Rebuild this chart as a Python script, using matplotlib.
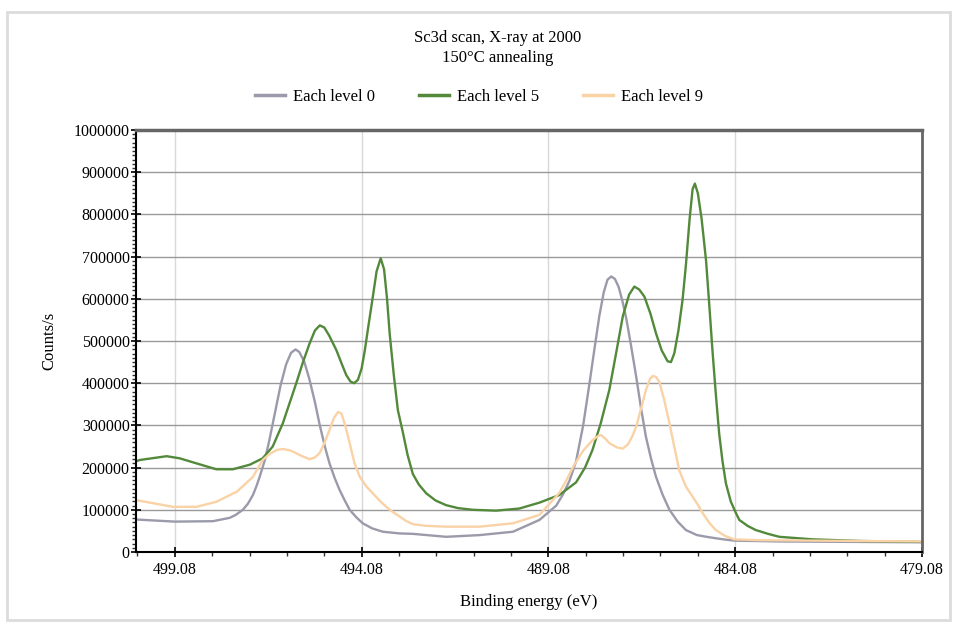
import numpy as np
import matplotlib.pyplot as plt
from matplotlib.patches import Rectangle
from matplotlib.ticker import MultipleLocator, FixedLocator, StrMethodFormatter

plt.rcParams["font.family"] = ["Liberation Serif", "DejaVu Serif"]

# binding energy (eV) / counts per second
e_level0 = [500.12, 499.08, 498.06, 497.61, 497.45, 497.26, 497.12, 496.99, 496.90,
            496.81, 496.67, 496.55, 496.40, 496.25, 496.10, 495.97, 495.85, 495.75,
            495.62, 495.48, 495.33, 495.20, 495.05, 494.94, 494.80, 494.67, 494.52,
            494.40, 494.22, 494.05, 493.80, 493.51, 493.06, 492.71, 491.82, 490.93,
            490.03, 489.32, 488.87, 488.70, 488.52, 488.34, 488.15, 487.98, 487.85,
            487.72, 487.60, 487.50, 487.40, 487.30, 487.20, 487.10, 487.00, 486.87,
            486.73, 486.60, 486.47, 486.33, 486.20, 486.02, 485.84, 485.62, 485.40,
            485.10, 484.78, 484.40, 484.11, 482.90, 479.08]
c_level0 = [77000, 72000, 73000, 81000, 88000, 100000, 115000, 135000, 155000,
            178000, 218000, 265000, 330000, 395000, 445000, 472000, 480000, 474000,
            452000, 410000, 355000, 300000, 245000, 210000, 175000, 147000, 120000,
            100000, 82000, 68000, 56000, 48000, 44000, 43000, 36000, 40000,
            48000, 76000, 110000, 135000, 168000, 215000, 300000, 400000, 480000,
            558000, 615000, 645000, 653000, 647000, 628000, 595000, 555000, 490000,
            415000, 340000, 273000, 220000, 178000, 135000, 100000, 72000, 52000,
            40000, 35000, 30000, 27000, 25000, 23000]

e_level5 = [500.12, 500.02, 499.30, 498.95, 498.50, 497.97, 497.53, 497.07, 496.73,
            496.46, 496.19, 495.83, 495.65, 495.47, 495.33, 495.20, 495.08, 494.95,
            494.76, 494.60, 494.49, 494.38, 494.28, 494.18, 494.08, 494.00, 493.90,
            493.78, 493.68, 493.57, 493.48, 493.40, 493.33, 493.22, 493.11, 492.98,
            492.85, 492.71, 492.55, 492.35, 492.10, 491.82, 491.50, 491.10, 490.48,
            489.86, 489.32, 488.79, 488.34, 488.10, 487.90, 487.68, 487.45, 487.25,
            487.09, 486.92, 486.78, 486.65, 486.51, 486.35, 486.20, 486.05, 485.89,
            485.80, 485.71, 485.60, 485.49, 485.40, 485.30, 485.22, 485.16, 485.08,
            484.98, 484.86, 484.77, 484.69, 484.60, 484.51, 484.42, 484.33, 484.20,
            484.06, 483.97, 483.75, 483.53, 483.20, 482.90, 482.01, 480.68, 479.08]
c_level5 = [215000, 218000, 227000, 222000, 210000, 196000, 196000, 207000, 222000,
            250000, 305000, 400000, 450000, 495000, 525000, 537000, 532000, 513000,
            479000, 443000, 419000, 404000, 400000, 408000, 435000, 475000, 535000,
            605000, 665000, 696000, 670000, 600000, 518000, 420000, 336000, 285000,
            230000, 185000, 160000, 139000, 122000, 111000, 104000, 100000, 98000,
            103000, 117000, 135000, 165000, 200000, 242000, 305000, 384000, 480000,
            558000, 610000, 629000, 622000, 605000, 565000, 518000, 478000, 452000,
            450000, 471000, 525000, 597000, 680000, 790000, 860000, 873000, 850000,
            790000, 690000, 580000, 479000, 375000, 281000, 215000, 163000, 120000,
            92000, 76000, 62000, 52000, 43000, 36000, 30000, 26000, 24000]

e_level9 = [500.12, 499.13, 498.50, 497.97, 497.42, 496.99, 496.73, 496.55, 496.35,
            496.19, 496.00, 495.83, 495.65, 495.47, 495.33, 495.20, 495.06, 494.94,
            494.82, 494.71, 494.62, 494.52, 494.40, 494.27, 494.13, 493.95, 493.78,
            493.60, 493.42, 493.25, 493.06, 492.90, 492.71, 492.35, 491.82, 490.93,
            490.03, 489.32, 488.79, 488.60, 488.40, 488.15, 487.90, 487.75, 487.67,
            487.55, 487.45, 487.25, 487.09, 486.95, 486.83, 486.73, 486.60, 486.47,
            486.36, 486.29, 486.20, 486.11, 485.98, 485.84, 485.70, 485.58, 485.40,
            485.22, 485.08, 484.95, 484.78, 484.60, 484.35, 484.11, 483.44, 479.08]
c_level9 = [123000, 107000, 107000, 119000, 143000, 178000, 218000, 232000, 242000,
            244000, 241000, 234000, 226000, 220000, 224000, 235000, 262000, 289000,
            318000, 332000, 328000, 300000, 258000, 210000, 178000, 155000, 139000,
            122000, 107000, 95000, 84000, 74000, 66000, 62000, 60000, 60000,
            68000, 88000, 140000, 170000, 205000, 240000, 265000, 275000, 277000,
            268000, 258000, 248000, 245000, 255000, 275000, 297000, 340000, 384000,
            410000, 417000, 415000, 403000, 360000, 305000, 245000, 194000, 155000,
            131000, 112000, 92000, 70000, 52000, 38000, 30000, 28000, 25000]

x_ticks = [499.08, 494.08, 489.08, 484.08, 479.08]
series = [("Each level 0", e_level0, c_level0, "#9a9aaa"),
          ("Each level 5", e_level5, c_level5, "#52893a"),
          ("Each level 9", e_level9, c_level9, "#f9d2a6")]

fig = plt.figure(figsize=(9.57, 6.24), dpi=100)
fig.patches.append(Rectangle((7 / 957, 4 / 624), 943 / 957, 608 / 624, transform=fig.transFigure,
                             fill=False, edgecolor="#dcdcdc", linewidth=2))
ax = fig.add_axes([136 / 957, 1 - 552 / 624, (922 - 136) / 957, (552 - 130) / 624])

for label, e, c, col in series:
    ax.plot(e, c, color=col, linewidth=1.7, label=label, solid_joinstyle="round")

ax.set_xlim(500.12, 479.08)
ax.set_ylim(0, 1000000)
ax.xaxis.set_major_locator(FixedLocator(x_ticks))
ax.xaxis.set_minor_locator(FixedLocator(np.arange(500.08, 479.0, -1.0)))
ax.yaxis.set_major_locator(MultipleLocator(100000))
ax.yaxis.set_minor_locator(MultipleLocator(10000))
ax.yaxis.set_major_formatter(StrMethodFormatter("{x:.0f}"))
ax.set_xticklabels([f"{t:.2f}" for t in x_ticks])

ax.grid(True, axis="y", which="major", color="#999999", linewidth=1.0)
ax.grid(True, axis="x", which="major", color="#d8d8d8", linewidth=1.0)
ax.set_axisbelow(True)

ax.tick_params(which="major", direction="inout", length=7, width=1.2, labelsize=11.5, color="black")
ax.tick_params(which="minor", direction="out", length=3, width=1, color="#333333")
ax.tick_params(axis="y", which="major", pad=1)

ax.spines["left"].set_linewidth(1.5)
ax.spines["bottom"].set_linewidth(1.5)
ax.spines["top"].set_color("#666666")
ax.spines["top"].set_linewidth(2.5)
ax.spines["right"].set_color("#666666")
ax.spines["right"].set_linewidth(2)

ax.set_xlabel("Binding energy (eV)", fontsize=12, labelpad=12)
ax.set_ylabel("Counts/s", fontsize=12, labelpad=12)

fig.text(498 / 957, 1 - 38 / 624, "Sc3d scan, X-ray at 2000", ha="center", va="center", fontsize=12)
fig.text(498 / 957, 1 - 58 / 624, "150°C annealing", ha="center", va="center", fontsize=12)
leg = fig.legend(loc="center", bbox_to_anchor=(479 / 957, 1 - 97 / 624), ncol=3, frameon=False,
                 fontsize=12, handlelength=1.8, handletextpad=0.5, columnspacing=2.6)
for line in leg.get_lines():
    line.set_linewidth(2.5)

fig.savefig("out.png", dpi=100, facecolor="white")
